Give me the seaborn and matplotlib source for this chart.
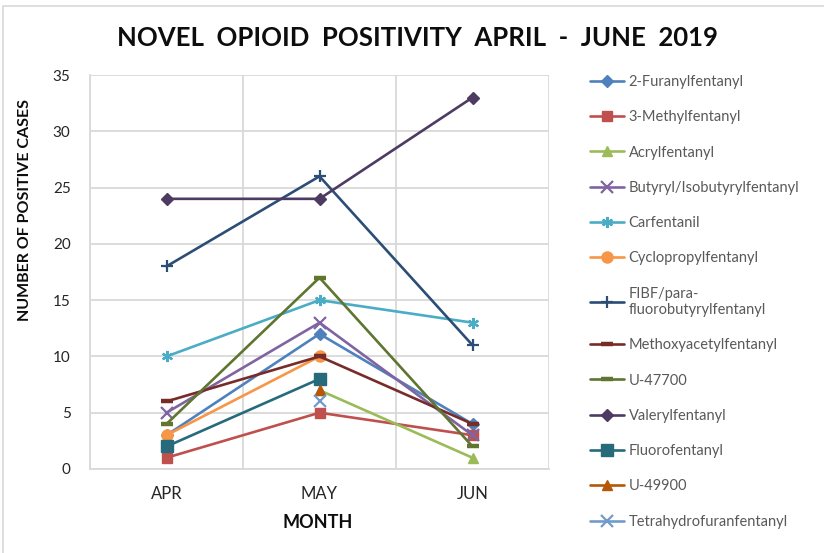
import numpy as np
import pandas as pd
import matplotlib
matplotlib.use("Agg")
import matplotlib.pyplot as plt
import seaborn as sns
from matplotlib.patches import Rectangle

months = ["APR", "MAY", "JUN"]

# positive cases per month (NaN = no cases reported)
furanylfentanyl = [3, 12, 4]
methylfentanyl = [1, 5, 3]
acrylfentanyl = [np.nan, 7, 1]
butyrylfentanyl = [5, 13, 3]
carfentanil = [10, 15, 13]
cyclopropylfentanyl = [3, 10, np.nan]
fibf = [18, 26, 11]
methoxyacetylfentanyl = [6, 10, 4]
u47700 = [4, 17, 2]
valerylfentanyl = [24, 24, 33]
fluorofentanyl = [2, 8, np.nan]
u49900 = [np.nan, 7, np.nan]
tetrahydrofuranfentanyl = [np.nan, 6, np.nan]

names = ["2-Furanylfentanyl", "3-Methylfentanyl", "Acrylfentanyl",
         "Butyryl/Isobutyrylfentanyl", "Carfentanil", "Cyclopropylfentanyl",
         "FIBF/para-\nfluorobutyrylfentanyl", "Methoxyacetylfentanyl", "U-47700",
         "Valerylfentanyl", "Fluorofentanyl", "U-49900", "Tetrahydrofuranfentanyl"]
values = [furanylfentanyl, methylfentanyl, acrylfentanyl, butyrylfentanyl,
          carfentanil, cyclopropylfentanyl, fibf, methoxyacetylfentanyl, u47700,
          valerylfentanyl, fluorofentanyl, u49900, tetrahydrofuranfentanyl]

colors = ["#4F81BD", "#C0504D", "#9BBB59", "#8064A2", "#4BACC6", "#F79646",
          "#2C4D75", "#772C2A", "#5F7530", "#4D3B62", "#276A7C", "#B65708", "#729ACA"]
markers = ["D", "s", "^", "x", (6, 2, 0), "o", "+", "_", "_", "D", "s", "^", "x"]
msizes = [6, 7, 7, 8, 8, 8, 8, 9, 9, 6, 8, 7, 8]

sns.set_style("white")
plt.rcParams["font.family"] = ["Lato", "DejaVu Sans"]

fig = plt.figure(figsize=(8.24, 5.53), dpi=100)
ax = fig.add_axes([90 / 824, 1 - 469 / 553, 459 / 824, 394 / 553])

for name, vals, c, m, ms in zip(names, values, colors, markers, msizes):
    df = pd.DataFrame({"month": months, "cases": vals})
    filled = m not in ("x", "+", "_") and not isinstance(m, tuple)
    sns.lineplot(data=df, x="month", y="cases", ax=ax, sort=False,
                 color=c, marker=m, markersize=ms, linewidth=1.9,
                 markeredgecolor=c, markeredgewidth=1.0 if filled else (3.2 if m == "_" else 1.6),
                 label=name)

ax.set_xlim(-0.5, 2.5)
ax.set_ylim(0, 35)
ax.set_yticks(range(0, 36, 5))
ax.set_xticks(range(len(months)))
ax.set_xticklabels(months)
ax.set_xticks([-0.5, 0.5, 1.5, 2.5], minor=True)
ax.grid(False)
ax.yaxis.grid(True, color="#D9D9D9", linewidth=1.3)
ax.xaxis.grid(True, which="minor", color="#D9D9D9", linewidth=1.3)
ax.set_axisbelow(True)
for side in ["top", "right"]:
    ax.spines[side].set_visible(False)
for side in ["left", "bottom"]:
    ax.spines[side].set_color("#D9D9D9")
    ax.spines[side].set_linewidth(1.3)
ax.tick_params(axis="both", which="both", length=0)
ax.tick_params(axis="y", labelsize=11, pad=14, labelcolor="#262626")
ax.tick_params(axis="x", labelsize=12, pad=12, labelcolor="#262626")
ax.set_xlabel("")
ax.set_ylabel("")

fig.text(417 / 824, 1 - 38 / 553, "NOVEL  OPIOID  POSITIVITY  APRIL  -  JUNE  2019",
         ha="center", va="center", fontsize=18.5, fontweight="bold", color="#0D0D0D")
fig.text(318 / 824, 1 - 522 / 553, "MONTH", ha="center", va="center",
         fontsize=13, fontweight="bold", color="#0D0D0D")
fig.text(25 / 824, 1 - 210 / 553, "NUMBER OF POSITIVE CASES", ha="center", va="center",
         rotation=90, fontsize=11.5, fontweight="bold", color="#0D0D0D")

ax.get_legend().remove()
handles, labels = ax.get_legend_handles_labels()
leg = fig.legend(handles, labels, loc="upper left", bbox_to_anchor=(590 / 824, 1 - 75 / 553),
                 frameon=False, fontsize=10.5, labelspacing=1.46, handlelength=2.35,
                 handletextpad=0.3, borderpad=0, borderaxespad=0)
for t in leg.get_texts():
    t.set_color("#595959")

fig.patches.append(Rectangle((3 / 824, -0.1), 1.2, 1 - 6 / 553 + 0.1, transform=fig.transFigure,
                             fill=False, edgecolor="#D9D9D9", linewidth=1.2))

fig.savefig("out.png", dpi=100)
